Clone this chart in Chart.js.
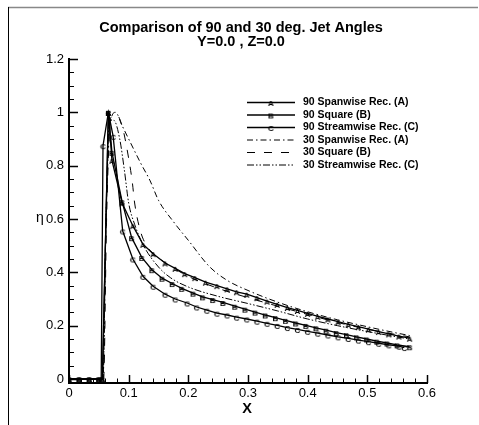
<!DOCTYPE html>
<html>
<head>
<meta charset="utf-8">
<script src="https://cdn.jsdelivr.net/npm/chart.js@4/dist/chart.umd.min.js"></script>
<style>
html,body{margin:0;padding:0;background:#fff;}
canvas{display:block;}
</style>
</head>
<body>
<canvas id="c" width="479" height="425"></canvas>
<script>
// ---------- DATA ----------
const titleLines = ['Comparison of 90 and 30 deg. Jet Angles', 'Y=0.0 , Z=0.0'];
const xTickLabels = ['0','0.1','0.2','0.3','0.4','0.5','0.6'];
const yTickLabels = ['0','0.2','0.4','0.6','0.8','1','1.2'];
const seriesNames = ['90 Spanwise Rec. (A)','90 Square (B)','90 Streamwise Rec. (C)','30 Spanwise Rec. (A)','30 Square (B)','30 Streamwise Rec. (C)'];

const x90A = [0,0.017,0.034,0.05,0.056,0.066,0.072,0.089,0.107,0.124,0.141,0.161,0.178,0.194,0.211,0.229,0.248,0.265,0.281,0.298,0.315,0.332,0.349,0.366,0.383,0.4,0.417,0.434,0.451,0.468,0.485,0.502,0.519,0.536,0.553,0.571];
const y90A = [0,0,0,0,0,1.0,0.82,0.66,0.575,0.505,0.47,0.435,0.415,0.395,0.38,0.363,0.35,0.338,0.327,0.318,0.305,0.292,0.280,0.268,0.257,0.246,0.235,0.225,0.215,0.205,0.196,0.187,0.178,0.169,0.161,0.153];

const x90B = [0,0.017,0.034,0.05,0.056,0.066,0.072,0.089,0.105,0.122,0.139,0.156,0.173,0.189,0.208,0.224,0.241,0.258,0.278,0.295,0.312,0.329,0.346,0.363,0.38,0.397,0.414,0.431,0.448,0.465,0.482,0.499,0.516,0.533,0.55,0.571];
const y90B = [0,0,0,0,0,1.0,0.85,0.665,0.53,0.456,0.41,0.378,0.358,0.34,0.322,0.308,0.298,0.287,0.273,0.262,0.251,0.240,0.230,0.220,0.210,0.201,0.192,0.183,0.174,0.166,0.158,0.150,0.142,0.135,0.128,0.121];

const x90C = [0,0.017,0.034,0.05,0.054,0.057,0.066,0.074,0.09,0.107,0.124,0.141,0.161,0.178,0.198,0.214,0.231,0.248,0.265,0.281,0.298,0.315,0.332,0.349,0.366,0.383,0.4,0.417,0.434,0.451,0.468,0.485,0.502,0.519,0.536,0.553,0.562];
const y90C = [0,0,0,0,0,0.875,1.0,0.91,0.555,0.45,0.385,0.348,0.318,0.3,0.285,0.27,0.258,0.247,0.24,0.232,0.225,0.217,0.209,0.201,0.193,0.186,0.179,0.172,0.165,0.158,0.152,0.146,0.140,0.134,0.128,0.123,0.118];

const x30A = [0,0.05,0.057,0.062,0.07,0.078,0.089,0.1,0.12,0.136,0.15,0.175,0.2,0.236,0.265,0.3,0.35,0.4,0.45,0.5,0.55,0.571];
const y30A = [0,0,0,0.6,0.97,1.0,0.95,0.9,0.81,0.743,0.67,0.59,0.52,0.42,0.37,0.332,0.288,0.252,0.222,0.196,0.172,0.163];

const x30B = [0,0.05,0.058,0.063,0.07,0.08,0.09,0.099,0.106,0.11,0.119,0.13,0.15,0.2,0.25,0.3,0.35,0.4,0.45,0.5,0.55,0.571];
const y30B = [0,0,0,0.6,0.98,0.99,0.94,0.84,0.74,0.66,0.56,0.5,0.455,0.385,0.34,0.305,0.273,0.242,0.212,0.187,0.166,0.158];

const x30C = [0,0.05,0.057,0.062,0.068,0.075,0.085,0.093,0.1,0.11,0.125,0.15,0.17,0.2,0.25,0.3,0.35,0.4,0.45,0.5,0.55,0.571];
const y30C = [0,0,0,0.6,0.97,0.97,0.9,0.78,0.66,0.58,0.5,0.42,0.38,0.345,0.31,0.283,0.255,0.225,0.2,0.178,0.158,0.15];

// ---------- helpers ----------
function pts(xs, ys){ return xs.map((x,i)=>({x:x, y:ys[i]})); }
function letterMarker(ch){
  const c = document.createElement('canvas');
  c.width = 9; c.height = 9;
  const g = c.getContext('2d');
  g.fillStyle = '#000';
  g.font = 'bold 8px "Liberation Sans", Arial, sans-serif';
  g.textAlign = 'center';
  g.textBaseline = 'alphabetic';
  g.fillText(ch, 4.5, 7.5);
  return c;
}
const mA = letterMarker('A'), mB = letterMarker('B'), mC = letterMarker('C');

const FONT = '"Liberation Sans", Arial, sans-serif';

const datasets = [
  {label: seriesNames[0], data: pts(x90A,y90A), borderColor:'#000', borderWidth:1.3, pointStyle:mA, pointRadius:3, marker:mA},
  {label: seriesNames[1], data: pts(x90B,y90B), borderColor:'#000', borderWidth:1.3, pointStyle:mB, pointRadius:3, marker:mB},
  {label: seriesNames[2], data: pts(x90C,y90C), borderColor:'#000', borderWidth:1.3, pointStyle:mC, pointRadius:3, marker:mC},
  {label: seriesNames[3], data: pts(x30A,y30A), borderColor:'#000', borderWidth:1, borderDash:[6,3,1.5,3], pointRadius:0, cubicInterpolationMode:'monotone'},
  {label: seriesNames[4], data: pts(x30B,y30B), borderColor:'#000', borderWidth:1, borderDash:[8,9], pointRadius:0, cubicInterpolationMode:'monotone'},
  {label: seriesNames[5], data: pts(x30C,y30C), borderColor:'#000', borderWidth:1, borderDash:[7,2,1.5,2,1.5,2], pointRadius:0, cubicInterpolationMode:'monotone'}
].map(d => Object.assign({showLine:true, fill:false, pointHoverRadius:0}, d));

const decor = {
  id:'decor',
  beforeDraw(chart){
    const ctx = chart.ctx;
    ctx.save();
    ctx.fillStyle = '#fff';
    ctx.fillRect(0,0,chart.width,chart.height);
    ctx.strokeStyle = '#888'; ctx.lineWidth = 1.5;
    ctx.beginPath(); ctx.moveTo(8,7.5); ctx.lineTo(478,7.5); ctx.stroke();
    ctx.strokeStyle = '#000'; ctx.lineWidth = 1;
    ctx.beginPath(); ctx.moveTo(8.5,7); ctx.lineTo(8.5,425); ctx.stroke();
    ctx.restore();
  },
  afterDraw(chart){
    const ctx = chart.ctx, a = chart.chartArea;
    const xs = chart.scales.x, ys = chart.scales.y;
    ctx.save();
    ctx.strokeStyle = '#000';
    const xMaj = xTickLabels.map(parseFloat), yMaj = yTickLabels.map(parseFloat);
    ctx.lineWidth = 1.5;
    xMaj.forEach(v=>{ const p = Math.round(xs.getPixelForValue(v))+0.5; ctx.beginPath(); ctx.moveTo(p,a.bottom); ctx.lineTo(p,a.bottom-8); ctx.stroke(); });
    yMaj.forEach(v=>{ const p = Math.round(ys.getPixelForValue(v))+0.5; ctx.beginPath(); ctx.moveTo(a.left,p); ctx.lineTo(a.left+9,p); ctx.stroke(); });
    ctx.lineWidth = 1;
    for (let i=0;i<xMaj.length-1;i++){ for(let k=1;k<5;k++){ const v = xMaj[i]+(xMaj[i+1]-xMaj[i])*k/5; const p = Math.round(xs.getPixelForValue(v))+0.5; ctx.beginPath(); ctx.moveTo(p,a.bottom); ctx.lineTo(p,a.bottom-4.5); ctx.stroke(); } }
    for (let i=0;i<yMaj.length-1;i++){ for(let k=1;k<4;k++){ const v = yMaj[i]+(yMaj[i+1]-yMaj[i])*k/4; const p = Math.round(ys.getPixelForValue(v))+0.5; ctx.beginPath(); ctx.moveTo(a.left,p); ctx.lineTo(a.left+5,p); ctx.stroke(); } }
    // titles
    ctx.fillStyle = '#000';
    ctx.textAlign = 'center'; ctx.textBaseline = 'alphabetic';
    ctx.font = 'bold 14.5px ' + FONT;
    ctx.fillText(titleLines[0], 241, 32);
    ctx.fillText(titleLines[1], 241, 45.5);
    ctx.font = 'bold 14.5px ' + FONT;
    ctx.fillText('X', 247, 412.5);
    ctx.font = '14px ' + FONT;
    ctx.textBaseline = 'middle';
    ctx.fillText('η', 40, 218);
    // legend
    ctx.font = 'bold 10.5px ' + FONT;
    ctx.textAlign = 'left';
    chart.data.datasets.forEach((d,i)=>{
      const y = 102.5 + i*12.5;
      ctx.save();
      ctx.lineWidth = d.borderWidth;
      ctx.setLineDash(d.borderDash || []);
      ctx.beginPath(); ctx.moveTo(247,y); ctx.lineTo(295,y); ctx.stroke();
      ctx.restore();
      if (d.marker) ctx.drawImage(d.marker, 271-4.5, y-4.5);
      ctx.fillText(d.label, 303, y);
    });
    ctx.restore();
  }
};

new Chart(document.getElementById('c'), {
  type:'scatter',
  data:{datasets},
  plugins:[decor],
  options:{
    responsive:false, animation:false, devicePixelRatio:1,
    layout:{padding:{top:59, right:52, left:0, bottom:0}},
    plugins:{legend:{display:false}, title:{display:false}, tooltip:{enabled:false}},
    elements:{line:{tension:0}},
    scales:{
      x:{type:'linear', min:0, max:0.6,
         afterFit(s){ s.height = 42; },
         afterBuildTicks(s){ s.ticks = xTickLabels.map(t=>({value:parseFloat(t)})); },
         ticks:{color:'#000', font:{family:FONT, size:13}, padding:3, maxRotation:0, autoSkip:false,
                callback:(v,i)=>xTickLabels[i]},
         grid:{display:false, drawTicks:false},
         border:{display:true, color:'#000', width:2}},
      y:{type:'linear', min:-0.015, max:1.2,
         afterFit(s){ s.width = 69; },
         afterBuildTicks(s){ s.ticks = yTickLabels.map(t=>({value:parseFloat(t)})); },
         ticks:{color:'#000', font:{family:FONT, size:13}, padding:5, autoSkip:false,
                callback:(v,i)=>yTickLabels[i]},
         grid:{display:false, drawTicks:false},
         border:{display:true, color:'#000', width:2}}
    }
  }
});
</script>
</body>
</html>
